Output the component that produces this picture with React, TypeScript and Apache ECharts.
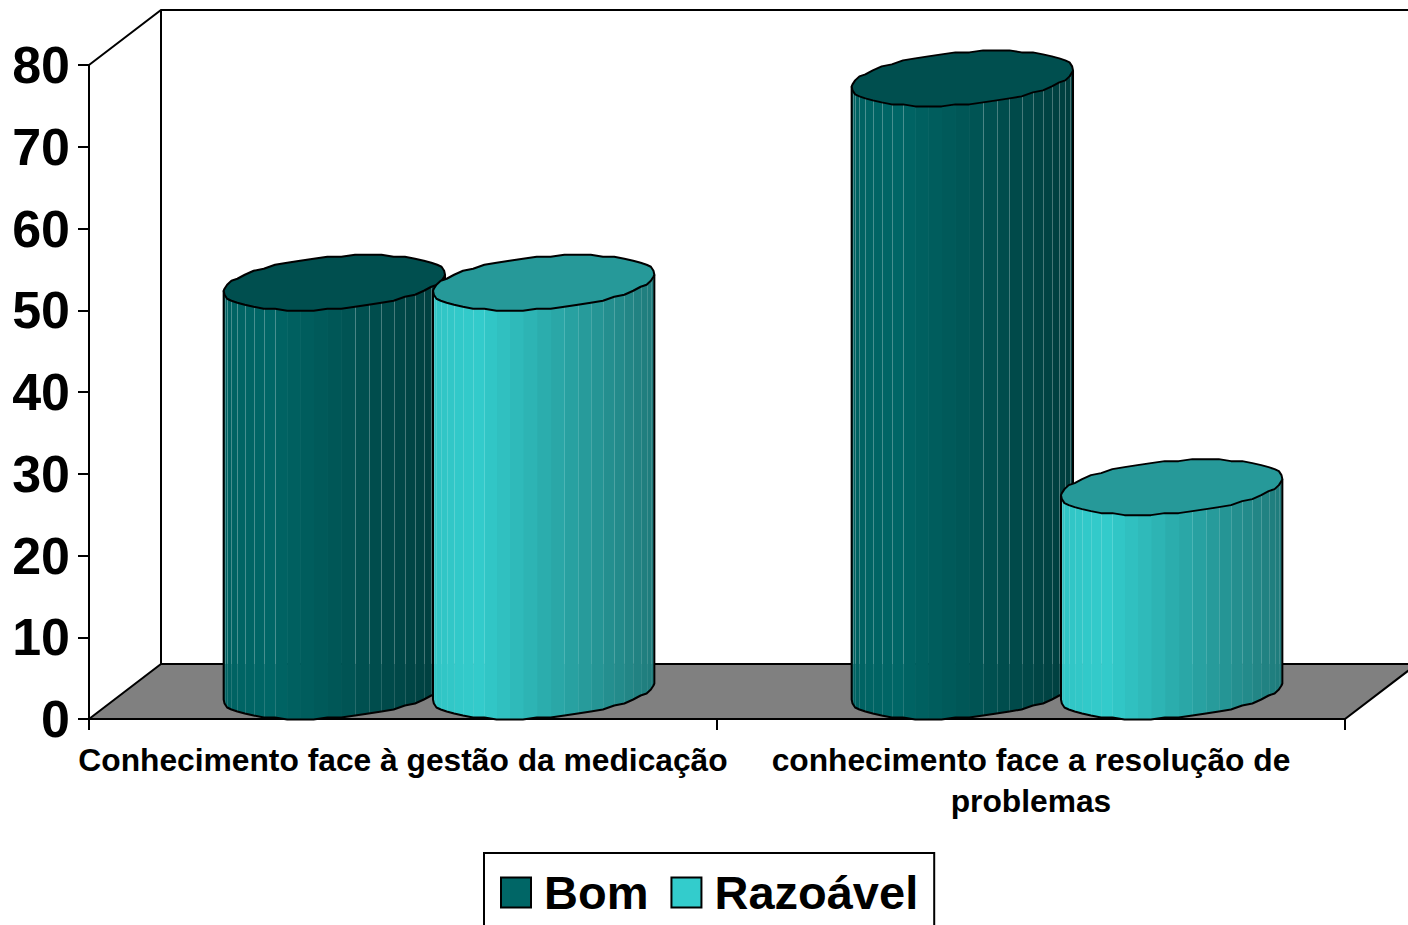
import React, { useEffect, useRef } from "react";
import * as echarts from "echarts";

const categories = [
  "Conhecimento face à gestão da medicação",
  "conhecimento face a resolução de\nproblemas",
];
const bomValues = [50, 75];
const razoavelValues = [50, 25];
const yTicks = { min: 0, max: 80, interval: 10 };
const FONT = "'Liberation Sans', Arial, sans-serif";

// oblique 3D depth of the chart box
const DEPTH_X = 72;
const DEPTH_Y = 55;
const FACET_DEG = 7.2;

function shade(rgb: number[], f: number) {
  return `rgb(${rgb.map((c) => Math.round(c * f)).join(",")})`;
}

function brightness(u: number) {
  if (u < 0.2) return 0.96 + 0.04 * (u / 0.2);
  return 1 - 0.4 * ((u - 0.2) / 0.8);
}

function cylinder(rgb: number[], topFactor: number, slot: number, seam: number) {
  return (params: any, api: any) => {
    const cat = api.value(0);
    const val = api.value(1);
    const band = api.size([1, 0])[0];
    const base = api.coord([cat, 0]);
    const top = api.coord([cat, val]);
    const cx = base[0] + DEPTH_X / 2 + (slot * band) / 6;
    const by = base[1] - DEPTH_Y / 2;
    const ty = top[1] - DEPTH_Y / 2;
    const ax = band / 6;
    const bx = -DEPTH_X / 2;
    const bh = DEPTH_Y / 2;
    const r = Math.sqrt(ax * ax + bx * bx);
    const t0 = Math.atan2(bx, ax);
    const off = (deg: number) => {
      const t = t0 + (deg * Math.PI) / 180;
      const dx = ax * Math.cos(t) + bx * Math.sin(t);
      const dy = bh * Math.sin(t);
      return [dx, Math.round(dy / 2) * 2];
    };
    const floorY = base[1] - DEPTH_Y;
    const children: any[] = [];
    const n = Math.round(180 / FACET_DEG);
    const front: number[][] = [];
    for (let i = 0; i <= n; i++) front.push(off(i * FACET_DEG));
    const ring: number[][] = [];
    for (let i = 0; i < 2 * n; i++) ring.push(off(i * FACET_DEG));

    for (let i = 0; i < n; i++) {
      const a = front[i];
      const b = front[i + 1];
      const u = (a[0] + b[0] + 2 * r) / (4 * r);
      const pts = [
        [cx + a[0] + 0.6, ty + a[1]],
        [cx + b[0], ty + b[1]],
        [cx + b[0], by + b[1]],
        [cx + a[0] + 0.6, by + a[1]],
      ];
      children.push({
        type: "polygon",
        shape: { points: pts },
        style: { fill: shade(rgb, brightness(u)) },
      });
    }
    for (let i = 1; i < n; i++) {
      const p = front[i];
      const u = (p[0] + r) / (2 * r);
      if (u > 0.24 && u < 0.55) continue;
      const x = Math.round(cx + p[0]) + 0.5;
      const yTop = ty + p[1];
      const yBot = by + p[1];
      if (yTop < floorY) {
        children.push({
          type: "line",
          shape: { x1: x, y1: yTop, x2: x, y2: Math.min(floorY, yBot) },
          style: { stroke: `rgba(255,255,255,${seam})`, lineWidth: 1 },
        });
      }
      if (yBot > floorY) {
        children.push({
          type: "line",
          shape: { x1: x, y1: Math.max(floorY, yTop), x2: x, y2: yBot },
          style: { stroke: `rgba(255,255,255,${seam / 2})`, lineWidth: 1 },
        });
      }
    }
    // silhouette of the body
    const outline = [
      [cx + front[0][0], ty + front[0][1]],
      [cx + front[0][0], by + front[0][1]],
    ];
    for (let i = 1; i <= n; i++) outline.push([cx + front[i][0], by + front[i][1]]);
    outline.push([cx + front[n][0], ty + front[n][1]]);
    children.push({
      type: "polyline",
      shape: { points: outline },
      style: { stroke: "#000", lineWidth: 2, fill: "none", lineJoin: "round" },
    });
    // top cap
    children.push({
      type: "polygon",
      shape: { points: ring.map((p) => [cx + p[0], ty + p[1]]) },
      style: { fill: shade(rgb, topFactor), stroke: "#000", lineWidth: 2, lineJoin: "round" },
    });
    return { type: "group", children };
  };
}

function frame(params: any) {
  const g = params.coordSys;
  const L = g.x;
  const T = g.y;
  const R = g.x + g.width;
  const B = g.y + g.height;
  const line = { stroke: "#000", lineWidth: 2, fill: "none" };
  return {
    type: "group",
    children: [
      {
        type: "polyline",
        shape: {
          points: [
            [L, T],
            [L + DEPTH_X, T - DEPTH_Y],
            [R + DEPTH_X, T - DEPTH_Y],
          ],
        },
        style: line,
      },
      {
        type: "line",
        shape: { x1: L + DEPTH_X, y1: T - DEPTH_Y, x2: L + DEPTH_X, y2: B - DEPTH_Y },
        style: line,
      },
      {
        type: "polygon",
        shape: {
          points: [
            [L, B],
            [L + DEPTH_X, B - DEPTH_Y],
            [R + DEPTH_X, B - DEPTH_Y],
            [R, B],
          ],
        },
        style: { fill: "#808080", stroke: "#000", lineWidth: 2 },
      },
    ],
  };
}

export default function App() {
  const ref = useRef<HTMLDivElement>(null);
  useEffect(() => {
    const chart = echarts.init(ref.current!, undefined, { renderer: "svg" });
    chart.setOption({
      animation: false,
      backgroundColor: "#fff",
      textStyle: { fontFamily: FONT },
      grid: { left: 89, right: 63, top: 65, bottom: 206, containLabel: false },
      legend: {
        data: ["Bom", "Razoável"],
        left: 484,
        top: 853,
        icon: "rect",
        itemWidth: 30,
        itemHeight: 30,
        itemGap: 22,
        padding: [16, 16, 40, 16],
        borderColor: "#000",
        borderWidth: 2,
        itemStyle: { borderColor: "#000", borderWidth: 2 },
        textStyle: {
          fontFamily: FONT,
          fontWeight: "bold",
          fontSize: 47,
          color: "#000",
          padding: [0, 0, 0, 8],
        },
      },
      xAxis: {
        type: "category",
        data: categories,
        axisLine: { show: true, lineStyle: { color: "#000", width: 2 } },
        axisTick: { show: true, length: 11, lineStyle: { color: "#000", width: 2 } },
        axisLabel: {
          color: "#000",
          fontFamily: FONT,
          fontWeight: "bold",
          fontSize: 31.75,
          lineHeight: 41,
          margin: 20,
          interval: 0,
          align: "center",
        },
        splitLine: { show: false },
      },
      yAxis: {
        type: "value",
        min: yTicks.min,
        max: yTicks.max,
        interval: yTicks.interval,
        axisLine: { show: true, lineStyle: { color: "#000", width: 2 } },
        axisTick: { show: true, length: 11, lineStyle: { color: "#000", width: 2 } },
        axisLabel: {
          color: "#000",
          fontFamily: FONT,
          fontWeight: "bold",
          fontSize: 52,
          margin: 19,
        },
        splitLine: { show: false },
      },
      series: [
        {
          name: "frame",
          type: "custom",
          coordinateSystem: "cartesian2d",
          renderItem: frame,
          data: [[0, 0]],
          clip: false,
          silent: true,
          z: 1,
        },
        {
          name: "Bom",
          type: "custom",
          coordinateSystem: "cartesian2d",
          renderItem: cylinder([0, 102, 102], 0.77, -1, 0.28),
          data: bomValues.map((v, i) => [i, v]),
          encode: { x: 0, y: 1 },
          itemStyle: { color: "#006666" },
          clip: false,
          z: 3,
        },
        {
          name: "Razoável",
          type: "custom",
          coordinateSystem: "cartesian2d",
          renderItem: cylinder([51, 204, 204], 0.75, 1, 0.16),
          data: razoavelValues.map((v, i) => [i, v]),
          encode: { x: 0, y: 1 },
          itemStyle: { color: "#33CCCC" },
          clip: false,
          z: 4,
        },
      ],
    });
    return () => chart.dispose();
  }, []);
  return (
    <div
      ref={ref}
      style={{ position: "fixed", left: 0, top: 0, width: 1408, height: 925, background: "#fff" }}
    />
  );
}
